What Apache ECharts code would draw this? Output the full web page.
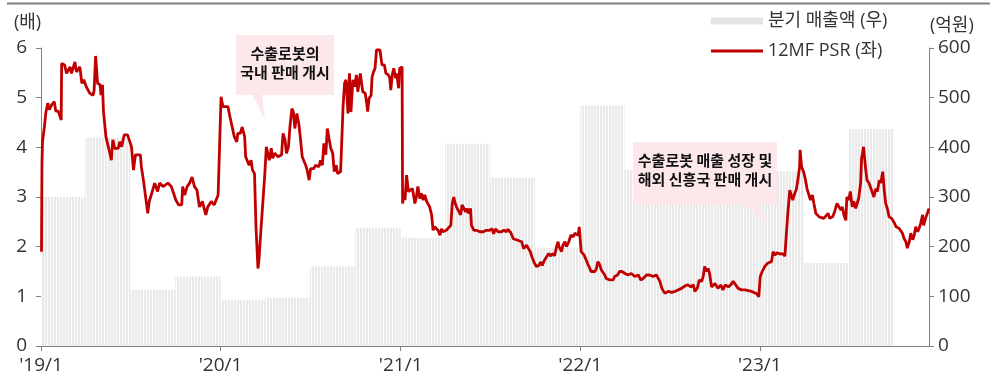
<!DOCTYPE html>
<html>
<head>
<meta charset="utf-8">
<script src="https://cdn.jsdelivr.net/npm/echarts@6/dist/echarts.min.js"></script>
<style>
  html, body { margin: 0; padding: 0; background: #fff; }
  #chart { width: 1003px; height: 382px; }
</style>
</head>
<body>
<div id="chart"></div>
<script>
// 분기 매출액 (억원) - 분기 시작일 경계 (마지막은 종료일)
const quarterBounds = [
  '2019-01-01', '2019-04-01', '2019-07-01', '2019-10-01',
  '2020-01-01', '2020-04-01', '2020-07-01', '2020-10-01',
  '2021-01-01', '2021-04-01', '2021-07-01', '2021-10-01',
  '2022-01-01', '2022-04-01', '2022-07-01', '2022-10-01',
  '2023-01-01', '2023-04-01', '2023-07-01', '2023-10-01'
];
const quarterSales = [300, 420, 113, 140, 92, 97, 160, 238, 218, 407, 339, 198, 484, 354, 350, 350, 352, 167, 437];

// 12MF PSR (배)
const psr2019 = [
  ['2019-01-02', 1.90], ['2019-01-03', 3.68], ['2019-01-04', 4.11], ['2019-01-08', 4.42], ['2019-01-11', 4.71],
  ['2019-01-15', 4.89], ['2019-01-18', 4.76], ['2019-01-23', 4.86], ['2019-01-28', 4.92], ['2019-01-31', 4.73],
  ['2019-02-05', 4.73], ['2019-02-11', 4.55], ['2019-02-12', 5.69], ['2019-02-18', 5.66], ['2019-02-22', 5.49],
  ['2019-03-01', 5.62], ['2019-03-04', 5.49], ['2019-03-11', 5.72], ['2019-03-14', 5.52], ['2019-03-21', 5.62],
  ['2019-03-25', 5.29], ['2019-03-29', 5.36], ['2019-04-03', 5.22], ['2019-04-10', 5.09], ['2019-04-17', 5.05],
  ['2019-04-19', 5.15], ['2019-04-22', 5.84], ['2019-04-26', 5.29], ['2019-05-01', 5.26], ['2019-05-03', 5.05],
  ['2019-05-06', 5.26], ['2019-05-08', 4.72], ['2019-05-13', 4.21], ['2019-05-16', 4.25], ['2019-05-21', 3.88],
  ['2019-05-24', 3.74], ['2019-05-27', 4.15], ['2019-05-31', 3.98], ['2019-06-07', 3.98], ['2019-06-10', 4.11],
  ['2019-06-14', 4.01], ['2019-06-19', 4.25], ['2019-06-26', 4.25], ['2019-07-04', 4.01], ['2019-07-08', 3.54],
  ['2019-07-12', 3.85], ['2019-07-22', 3.85], ['2019-07-24', 3.61], ['2019-07-29', 3.28], ['2019-08-02', 3.28],
  ['2019-08-06', 2.67], ['2019-08-09', 2.91], ['2019-08-14', 3.07], ['2019-08-16', 3.04], ['2019-08-20', 3.28],
  ['2019-08-26', 3.11], ['2019-08-30', 3.28], ['2019-09-06', 3.21], ['2019-09-16', 3.28], ['2019-09-23', 3.21],
  ['2019-09-30', 3.00], ['2019-10-02', 2.94], ['2019-10-08', 2.84], ['2019-10-14', 2.84], ['2019-10-16', 3.21],
  ['2019-10-20', 3.04], ['2019-10-25', 3.21], ['2019-10-30', 3.28], ['2019-11-04', 3.40], ['2019-11-09', 3.21],
  ['2019-11-14', 3.14], ['2019-11-19', 2.80], ['2019-11-25', 2.91], ['2019-12-02', 2.64], ['2019-12-06', 2.80],
  ['2019-12-13', 2.91], ['2019-12-19', 2.84], ['2019-12-23', 2.87], ['2019-12-27', 3.04], ['2019-12-30', 3.00]
];
const psr2020 = [
  ['2020-01-02', 5.02], ['2020-01-03', 4.95], ['2020-01-06', 4.82], ['2020-01-10', 4.82], ['2020-01-16', 4.82],
  ['2020-01-20', 4.62], ['2020-01-24', 4.58], ['2020-01-29', 4.21], ['2020-02-03', 4.11], ['2020-02-05', 4.28],
  ['2020-02-10', 4.28], ['2020-02-14', 4.41], ['2020-02-19', 4.21], ['2020-02-21', 3.81], ['2020-02-25', 3.85],
  ['2020-02-28', 3.64], ['2020-03-03', 3.74], ['2020-03-06', 3.54], ['2020-03-10', 3.47], ['2020-03-13', 2.40],
  ['2020-03-17', 1.56], ['2020-03-19', 1.73], ['2020-03-23', 2.33], ['2020-03-27', 2.36], ['2020-03-31', 3.47],
  ['2020-04-03', 4.01], ['2020-04-06', 4.04], ['2020-04-09', 3.74], ['2020-04-13', 3.98], ['2020-04-16', 3.78],
  ['2020-04-20', 3.88], ['2020-04-27', 3.81], ['2020-05-04', 3.85], ['2020-05-07', 4.28], ['2020-05-11', 4.15],
  ['2020-05-14', 3.88], ['2020-05-18', 4.01], ['2020-05-21', 4.41], ['2020-05-25', 4.78], ['2020-05-28', 4.71],
  ['2020-05-31', 4.38], ['2020-06-04', 4.68], ['2020-06-08', 4.48], ['2020-06-11', 4.21], ['2020-06-15', 3.81],
  ['2020-06-18', 3.78], ['2020-06-22', 3.64], ['2020-06-25', 3.54], ['2020-06-29', 3.34], ['2020-07-02', 3.57],
  ['2020-07-08', 3.57], ['2020-07-12', 3.64], ['2020-07-19', 3.61], ['2020-07-22', 3.74], ['2020-07-26', 3.64],
  ['2020-07-29', 4.08], ['2020-08-02', 3.85], ['2020-08-05', 4.38], ['2020-08-09', 4.15], ['2020-08-12', 3.98],
  ['2020-08-16', 3.88], ['2020-08-19', 3.51], ['2020-08-23', 3.64], ['2020-08-26', 3.47], ['2020-09-01', 3.51],
  ['2020-09-05', 3.51], ['2020-09-06', 4.82], ['2020-09-09', 5.29], ['2020-09-12', 5.36], ['2020-09-16', 4.68],
  ['2020-09-19', 5.49], ['2020-09-22', 4.71], ['2020-09-26', 5.36], ['2020-09-30', 5.22], ['2020-10-03', 5.46],
  ['2020-10-06', 5.12], ['2020-10-11', 5.49], ['2020-10-16', 5.12], ['2020-10-21', 5.09], ['2020-10-24', 4.89],
  ['2020-10-26', 4.72], ['2020-10-29', 4.99], ['2020-11-02', 5.05], ['2020-11-04', 5.42], ['2020-11-07', 5.52],
  ['2020-11-10', 5.59], ['2020-11-13', 5.96], ['2020-11-20', 5.96], ['2020-11-24', 5.66], ['2020-11-29', 5.66],
  ['2020-12-02', 5.49], ['2020-12-07', 5.46], ['2020-12-10', 5.39], ['2020-12-12', 5.15], ['2020-12-15', 5.46],
  ['2020-12-18', 5.59], ['2020-12-22', 5.39], ['2020-12-24', 5.49], ['2020-12-28', 5.19], ['2020-12-30', 5.59]
];
const psr2021 = [
  ['2021-01-04', 5.62], ['2021-01-05', 2.87], ['2021-01-07', 3.00], ['2021-01-10', 2.94], ['2021-01-13', 3.44],
  ['2021-01-17', 3.11], ['2021-01-20', 3.07], ['2021-01-25', 3.17], ['2021-01-30', 2.87], ['2021-02-02', 3.00],
  ['2021-02-05', 3.21], ['2021-02-09', 2.97], ['2021-02-12', 3.07], ['2021-02-16', 2.94], ['2021-02-19', 3.04],
  ['2021-02-23', 2.91], ['2021-02-26', 2.87], ['2021-03-01', 2.80], ['2021-03-05', 2.64], ['2021-03-08', 2.33],
  ['2021-03-11', 2.40], ['2021-03-15', 2.43], ['2021-03-18', 2.33], ['2021-03-22', 2.23], ['2021-03-25', 2.36],
  ['2021-03-28', 2.30], ['2021-04-01', 2.30], ['2021-04-04', 2.33], ['2021-04-07', 2.36], ['2021-04-13', 2.43],
  ['2021-04-16', 2.87], ['2021-04-19', 3.00], ['2021-04-22', 2.87], ['2021-04-26', 2.77], ['2021-04-29', 2.80],
  ['2021-05-03', 2.64], ['2021-05-06', 2.84], ['2021-05-09', 2.80], ['2021-05-13', 2.70], ['2021-05-16', 2.77],
  ['2021-05-19', 2.67], ['2021-05-23', 2.77], ['2021-05-25', 2.43], ['2021-05-30', 2.33], ['2021-06-04', 2.33],
  ['2021-06-11', 2.30], ['2021-06-18', 2.30], ['2021-06-24', 2.33], ['2021-06-28', 2.36], ['2021-07-01', 2.33],
  ['2021-07-06', 2.36], ['2021-07-09', 2.26], ['2021-07-13', 2.36], ['2021-07-18', 2.30], ['2021-07-25', 2.30],
  ['2021-07-30', 2.33], ['2021-08-04', 2.30], ['2021-08-07', 2.35], ['2021-08-13', 2.28], ['2021-08-18', 2.16],
  ['2021-08-21', 2.13], ['2021-08-27', 2.13], ['2021-08-31', 2.10], ['2021-09-04', 2.10], ['2021-09-08', 1.96],
  ['2021-09-14', 2.03], ['2021-09-18', 2.00], ['2021-09-22', 1.89], ['2021-09-25', 1.79], ['2021-09-29', 1.69],
  ['2021-10-04', 1.60], ['2021-10-09', 1.62], ['2021-10-13', 1.69], ['2021-10-16', 1.62], ['2021-10-20', 1.72],
  ['2021-10-24', 1.76], ['2021-10-29', 1.86], ['2021-11-02', 1.81], ['2021-11-05', 1.86], ['2021-11-10', 1.82],
  ['2021-11-14', 2.00], ['2021-11-17', 2.10], ['2021-11-19', 2.00], ['2021-11-24', 1.90], ['2021-11-27', 2.03],
  ['2021-12-01', 2.10], ['2021-12-04', 2.00], ['2021-12-09', 2.10], ['2021-12-13', 2.23], ['2021-12-18', 2.20],
  ['2021-12-21', 2.27], ['2021-12-24', 2.30], ['2021-12-28', 2.23], ['2021-12-30', 2.40]
];
const psr2022 = [
  ['2022-01-03', 1.90], ['2022-01-05', 1.86], ['2022-01-09', 1.83], ['2022-01-12', 1.76], ['2022-01-16', 1.66],
  ['2022-01-19', 1.60], ['2022-01-23', 1.50], ['2022-01-27', 1.46], ['2022-01-31', 1.50], ['2022-02-03', 1.56],
  ['2022-02-06', 1.70], ['2022-02-10', 1.63], ['2022-02-13', 1.53], ['2022-02-16', 1.50], ['2022-02-20', 1.43],
  ['2022-02-23', 1.36], ['2022-02-27', 1.40], ['2022-03-02', 1.33], ['2022-03-06', 1.36], ['2022-03-09', 1.33],
  ['2022-03-12', 1.40], ['2022-03-18', 1.43], ['2022-03-22', 1.50], ['2022-03-27', 1.50], ['2022-04-02', 1.46],
  ['2022-04-08', 1.43], ['2022-04-15', 1.46], ['2022-04-22', 1.40], ['2022-04-29', 1.43], ['2022-05-04', 1.33],
  ['2022-05-09', 1.36], ['2022-05-16', 1.43], ['2022-05-22', 1.43], ['2022-05-29', 1.40], ['2022-06-05', 1.43],
  ['2022-06-12', 1.30], ['2022-06-16', 1.16], ['2022-06-22', 1.06], ['2022-06-29', 1.10], ['2022-07-06', 1.08],
  ['2022-07-13', 1.10], ['2022-07-19', 1.13], ['2022-07-26', 1.16], ['2022-08-02', 1.21], ['2022-08-08', 1.23],
  ['2022-08-14', 1.19], ['2022-08-19', 1.23], ['2022-08-22', 1.10], ['2022-08-27', 1.16], ['2022-08-31', 1.33],
  ['2022-09-05', 1.30], ['2022-09-08', 1.40], ['2022-09-11', 1.60], ['2022-09-15', 1.50], ['2022-09-18', 1.56],
  ['2022-09-21', 1.46], ['2022-09-25', 1.19], ['2022-09-28', 1.19], ['2022-10-02', 1.26], ['2022-10-05', 1.30],
  ['2022-10-08', 1.16], ['2022-10-14', 1.23], ['2022-10-18', 1.13], ['2022-10-23', 1.23], ['2022-10-29', 1.19],
  ['2022-11-03', 1.23], ['2022-11-08', 1.30], ['2022-11-13', 1.23], ['2022-11-18', 1.16], ['2022-11-25', 1.13],
  ['2022-12-02', 1.13], ['2022-12-05', 1.13], ['2022-12-15', 1.10], ['2022-12-26', 1.05], ['2022-12-30', 0.99]
];
const psr2023 = [
  ['2023-01-02', 1.40], ['2023-01-06', 1.50], ['2023-01-11', 1.60], ['2023-01-16', 1.66], ['2023-01-20', 1.65],
  ['2023-01-25', 1.70], ['2023-01-28', 1.90], ['2023-02-01', 1.83], ['2023-02-05', 1.88], ['2023-02-11', 1.85],
  ['2023-02-16', 1.86], ['2023-02-21', 1.81], ['2023-02-24', 1.83], ['2023-02-27', 2.67], ['2023-03-03', 3.14],
  ['2023-03-06', 3.17], ['2023-03-09', 2.94], ['2023-03-13', 3.07], ['2023-03-16', 3.14], ['2023-03-19', 3.31],
  ['2023-03-23', 3.61], ['2023-03-24', 3.95], ['2023-03-27', 3.61], ['2023-03-31', 3.51], ['2023-04-04', 3.34],
  ['2023-04-07', 3.17], ['2023-04-11', 3.14], ['2023-04-14', 2.94], ['2023-04-18', 3.04], ['2023-04-21', 2.87],
  ['2023-04-25', 2.67], ['2023-04-28', 2.70], ['2023-05-02', 2.60], ['2023-05-06', 2.64], ['2023-05-11', 2.57],
  ['2023-05-15', 2.53], ['2023-05-20', 2.67], ['2023-05-23', 2.57], ['2023-05-29', 2.60], ['2023-06-02', 2.70],
  ['2023-06-07', 2.87], ['2023-06-11', 2.91], ['2023-06-15', 2.74], ['2023-06-18', 2.80], ['2023-06-21', 2.64],
  ['2023-06-25', 2.53], ['2023-06-27', 3.00], ['2023-07-01', 2.94], ['2023-07-04', 3.11], ['2023-07-08', 2.80],
  ['2023-07-11', 2.91], ['2023-07-15', 2.77], ['2023-07-18', 2.80], ['2023-07-21', 2.97], ['2023-07-25', 3.28],
  ['2023-07-27', 3.78], ['2023-07-31', 4.01], ['2023-08-04', 3.58], ['2023-08-07', 3.34], ['2023-08-11', 3.28],
  ['2023-08-15', 3.17], ['2023-08-18', 3.21], ['2023-08-21', 3.00], ['2023-08-25', 3.17], ['2023-08-28', 3.11],
  ['2023-09-01', 3.34], ['2023-09-04', 3.28], ['2023-09-08', 3.51], ['2023-09-11', 3.14], ['2023-09-14', 2.87],
  ['2023-09-18', 2.74], ['2023-09-21', 2.60], ['2023-09-26', 2.57], ['2023-10-02', 2.47], ['2023-10-05', 2.40],
  ['2023-10-08', 2.43], ['2023-10-11', 2.37], ['2023-10-15', 2.40], ['2023-10-18', 2.27], ['2023-10-21', 2.17],
  ['2023-10-25', 2.10], ['2023-10-28', 1.97], ['2023-11-01', 2.10], ['2023-11-04', 2.27], ['2023-11-08', 2.14],
  ['2023-11-11', 2.23], ['2023-11-14', 2.40], ['2023-11-18', 2.30], ['2023-11-21', 2.37], ['2023-11-24', 2.47],
  ['2023-11-28', 2.64], ['2023-11-30', 2.43], ['2023-12-04', 2.57], ['2023-12-07', 2.60], ['2023-12-11', 2.77]
];

const FONT = "'Open Sans', 'Noto Sans CJK KR', sans-serif";
const KFONT = "'Noto Sans CJK KR', sans-serif";
const AXIS_COLOR = '#808080';
const LINE_COLOR = '#c00000';

// 막대 줄무늬 패턴
const stripe = document.createElement('canvas');
stripe.width = 3;
stripe.height = 4;
const sctx = stripe.getContext('2d');
sctx.fillStyle = '#e9e9e9';
sctx.fillRect(0, 0, 2, 4);
sctx.fillStyle = '#fbfbfb';
sctx.fillRect(2, 0, 1, 4);

const salesData = quarterSales.map((v, i) => [quarterBounds[i], quarterBounds[i + 1], v]);
const psrData = [].concat(psr2019, psr2020, psr2021, psr2022, psr2023);

const chart = echarts.init(document.getElementById('chart'));

const option = {
  animation: false,
  textStyle: { fontFamily: FONT },
  grid: { left: 41, right: 74, top: 48, bottom: 36 },
  legend: [
    {
      left: 711, top: 12, padding: 0,
      itemWidth: 52, itemHeight: 7, icon: 'rect',
      selectedMode: false,
      textStyle: { fontSize: 18, color: '#333', fontFamily: FONT },
      data: [{ name: '분기 매출액 (우)', itemStyle: { color: '#e4e4e4' } }]
    },
    {
      left: 711, top: 42, padding: 0,
      itemWidth: 52, itemHeight: 3, icon: 'rect',
      selectedMode: false,
      textStyle: { fontSize: 18, color: '#333', fontFamily: FONT },
      data: [{ name: '12MF PSR (좌)', itemStyle: { color: LINE_COLOR } }]
    }
  ],
  xAxis: {
    type: 'time',
    min: '2019-01-01',
    max: '2023-12-11',
    minInterval: 365 * 24 * 3600 * 1000,
    maxInterval: 366 * 24 * 3600 * 1000,
    axisLine: { show: true, lineStyle: { color: AXIS_COLOR } },
    axisTick: { show: true, length: 5, lineStyle: { color: AXIS_COLOR } },
    axisLabel: {
      fontSize: 19, color: '#333', margin: 10,
      showMinLabel: true, hideOverlap: false,
      formatter: function (val) {
        const d = new Date(val);
        return "'" + String(d.getFullYear()).slice(2) + '/' + (d.getMonth() + 1);
      }
    },
    splitLine: { show: false }
  },
  yAxis: [
    {
      type: 'value', min: 0, max: 6, interval: 1,
      axisLine: { show: true, lineStyle: { color: AXIS_COLOR } },
      axisTick: { show: true, length: 5, lineStyle: { color: AXIS_COLOR } },
      axisLabel: { fontSize: 19, color: '#333', margin: 14 },
      splitLine: { show: false }
    },
    {
      type: 'value', position: 'right', min: 0, max: 600, interval: 100,
      axisLine: { show: true, lineStyle: { color: AXIS_COLOR } },
      axisTick: { show: true, length: 5, lineStyle: { color: AXIS_COLOR } },
      axisLabel: { fontSize: 19, color: '#333', margin: 9 },
      splitLine: { show: false }
    }
  ],
  series: [
    {
      name: '분기 매출액 (우)',
      type: 'custom',
      yAxisIndex: 1,
      z: 1,
      itemStyle: { color: '#e4e4e4' },
      dimensions: [
        { name: 'start', type: 'time' },
        { name: 'end', type: 'time' },
        { name: 'sales', type: 'float' }
      ],
      encode: { x: [0, 1], y: 2 },
      data: salesData,
      renderItem: function (params, api) {
        const p0 = api.coord([api.value(0), api.value(2)]);
        const p1 = api.coord([api.value(1), 0]);
        return {
          type: 'rect',
          shape: { x: p0[0], y: p0[1], width: p1[0] - p0[0], height: p1[1] - p0[1] },
          style: { fill: { image: stripe, repeat: 'repeat' } }
        };
      }
    },
    {
      name: '12MF PSR (좌)',
      type: 'line',
      yAxisIndex: 0,
      z: 5,
      data: psrData,
      showSymbol: false,
      symbol: 'none',
      color: LINE_COLOR,
      lineStyle: { color: LINE_COLOR, width: 2.8 },
      itemStyle: { color: LINE_COLOR }
    }
  ],
  graphic: [
    // 상단 구분선
    { type: 'line', shape: { x1: 7, y1: 3.5, x2: 990, y2: 3.5 }, style: { stroke: '#808080', lineWidth: 2 } },
    // 축 단위
    { type: 'text', left: 14, top: 14, style: { text: '(배)', fontSize: 18, fill: '#333', fontFamily: FONT } },
    { type: 'text', left: 930, top: 17, style: { text: '(억원)', fontSize: 18, fill: '#333', fontFamily: FONT } },
    // 말풍선 1
    { type: 'rect', z: 20, shape: { x: 236, y: 35, width: 98, height: 60 }, style: { fill: '#fce8ea' } },
    { type: 'polygon', z: 20, shape: { points: [[252, 94], [262, 94], [265, 120]] }, style: { fill: '#fce8ea' } },
    {
      type: 'text', z: 21, x: 285, y: 63,
      style: {
        text: '수출로봇의\n국내 판매 개시', fontSize: 15, fontWeight: 'bold', lineHeight: 19,
        fill: '#111', align: 'center', verticalAlign: 'middle', fontFamily: KFONT
      }
    },
    // 말풍선 2
    { type: 'rect', z: 20, shape: { x: 633, y: 142, width: 144, height: 63 }, style: { fill: '#fce8ea' } },
    { type: 'polygon', z: 20, shape: { points: [[740, 204], [757, 204], [770, 223]] }, style: { fill: '#fce8ea' } },
    {
      type: 'text', z: 21, x: 705, y: 170,
      style: {
        text: '수출로봇 매출 성장 및\n해외 신흥국 판매 개시', fontSize: 15, fontWeight: 'bold', lineHeight: 19,
        fill: '#111', align: 'center', verticalAlign: 'middle', fontFamily: KFONT
      }
    }
  ]
};

chart.setOption(option);
</script>
</body>
</html>
